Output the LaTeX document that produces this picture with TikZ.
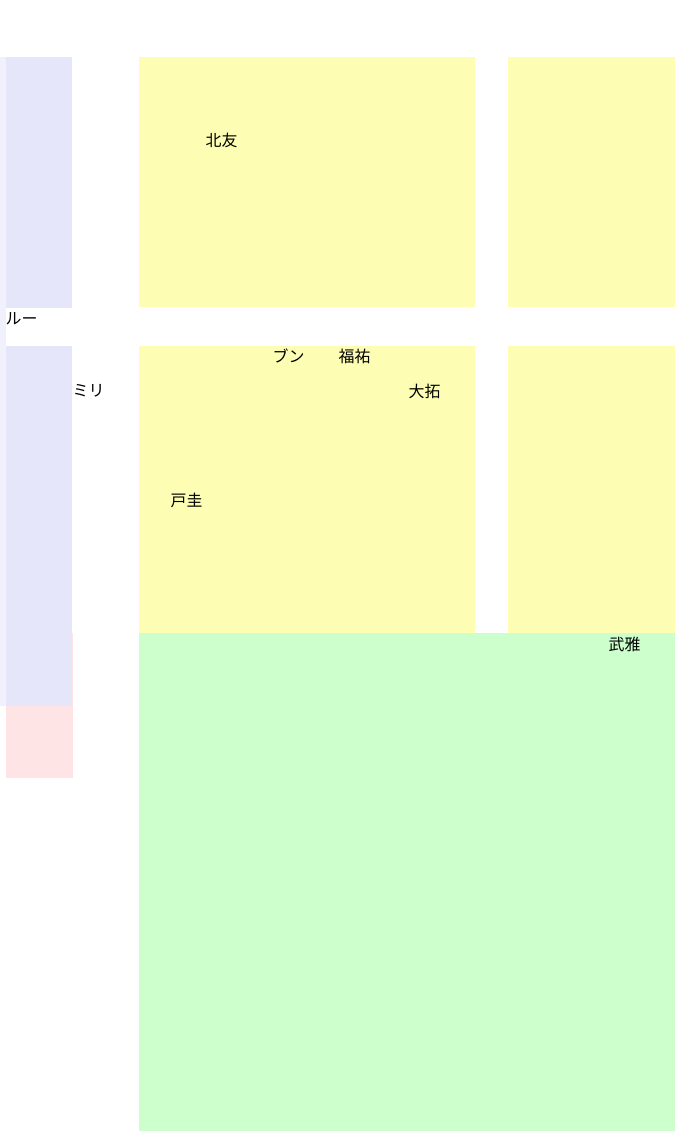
\documentclass[tikz,border=0pt]{standalone}
\usepackage{fontspec}
\newfontfamily\cjk{Noto Sans CJK JP}
\definecolor{yel}{HTML}{FDFDB3}
\definecolor{grn}{HTML}{CCFFCC}
\definecolor{lav}{HTML}{E6E6FB}
\definecolor{lavl}{HTML}{F1F1FD}
\definecolor{pnk}{HTML}{FEE4E4}
\tikzset{lbl/.style={font=\cjk\fontsize{16}{16}\selectfont, inner sep=0pt, text=black}}
\begin{document}
\begin{tikzpicture}[x=1bp,y=-1bp]
\useasboundingbox (0,0) rectangle (675,1131);
\fill[white] (0,0) rectangle (675,1131);
% left strips
\fill[lavl] (0,57) rectangle (6,706);
\fill[pnk] (6,633) rectangle (73,778);
\fill[lav] (6,57) rectangle (72,308);
\fill[lav] (6,346) rectangle (72,706);
\fill[white] (6,308) rectangle (72,346);
% yellow blocks
\fill[yel] (139,57) rectangle (475,307);
\fill[yel] (508,57) rectangle (675,307);
\fill[yel] (139,346) rectangle (475,633);
\fill[yel] (508,346) rectangle (675,633);
% green
\fill[grn] (139,633) rectangle (675,1131);
% labels
\node[lbl] (a) at (221.5,140) {北友};
\node[lbl] (b) at (21.5,319) {ルー};
\node[lbl] (c) at (288.5,356) {ブン};
\node[lbl] (d) at (354.5,356) {福祐};
\node[lbl] (e) at (88.5,391) {ミリ};
\node[lbl] (f) at (424.5,391) {大拓};
\node[lbl] (g) at (186.5,500) {戸圭};
\node[lbl] (h) at (624.5,644) {武雅};
\end{tikzpicture}
\end{document}
